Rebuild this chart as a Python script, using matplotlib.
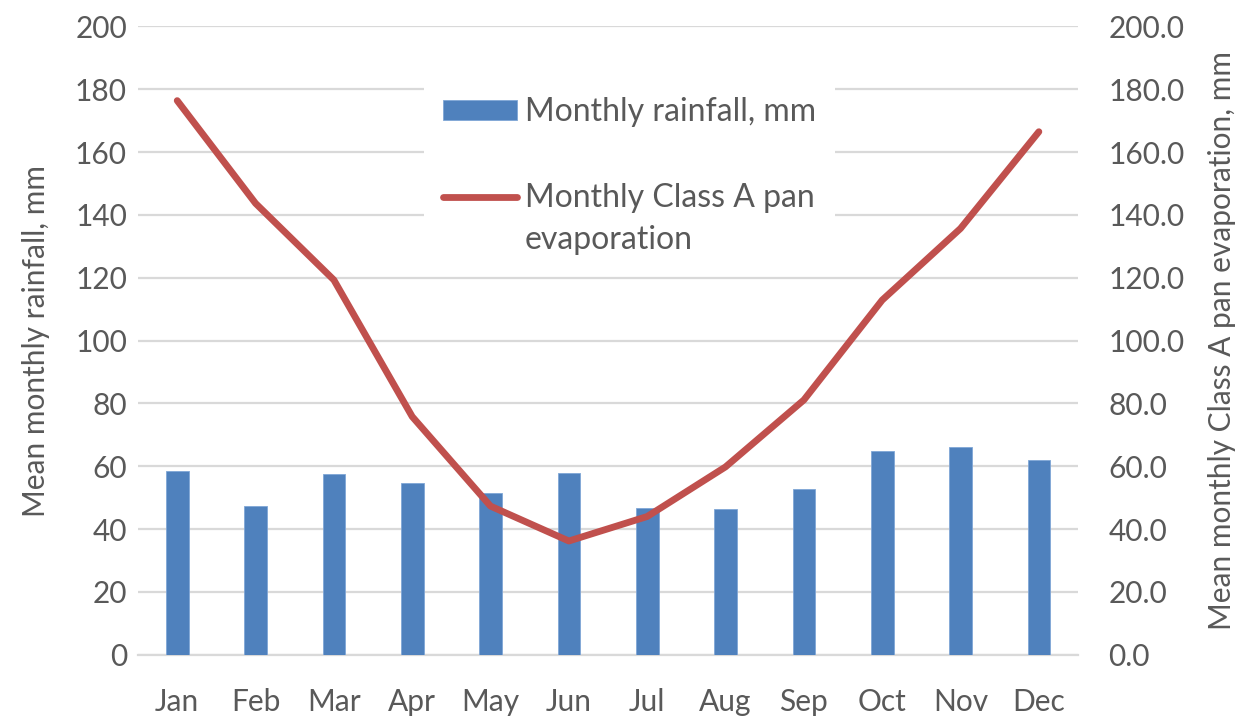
import matplotlib.pyplot as plt
import numpy as np

plt.rcParams['font.family'] = ['Lato', 'DejaVu Sans']

months = ['Jan', 'Feb', 'Mar', 'Apr', 'May', 'Jun',
          'Jul', 'Aug', 'Sep', 'Oct', 'Nov', 'Dec']
rainfall = [58.4, 47.4, 57.4, 54.6, 51.6, 57.8, 46.8, 46.3, 52.7, 64.8, 66.0, 61.9]
evaporation = [176.4, 143.7, 119.3, 75.8, 47.3, 36.2, 44.0, 59.8, 81.1, 112.9, 135.7, 166.5]
left_ticks = [0, 20, 40, 60, 80, 100, 120, 140, 160, 180, 200]

grey = '#595959'
grid_c = '#D9D9D9'
fs = 21.5
leg_fs = 23

fig = plt.figure(figsize=(12.47, 7.16), dpi=100)
ax = fig.add_axes([0.1107, 0.0856, 0.7538, 0.8774])
ax2 = ax.twinx()

x = np.arange(len(months))
ax.bar(x, rainfall, width=0.29, color='#4F81BD', edgecolor='#7FA6D6',
       linewidth=0.6, label='Monthly rainfall, mm', zorder=3)
ax2.plot(x, evaporation, color='#C0504D', lw=4.9, solid_capstyle='round',
         solid_joinstyle='round', label='Monthly Class A pan')

ax.set_xlim(-0.5, len(months) - 0.5)
ax.set_ylim(0, 200)
ax2.set_ylim(0, 200)
ax.set_yticks(left_ticks)
ax2.set_yticks(left_ticks)
ax2.set_yticklabels([f'{v:.1f}' for v in left_ticks])
ax.set_xticks(x)
ax.set_xticklabels(months)

ax.grid(axis='y', color=grid_c, lw=1.6, zorder=0)
ax.set_axisbelow(True)
for a in (ax, ax2):
    for sp in a.spines.values():
        sp.set_visible(False)
    a.tick_params(length=0, labelsize=fs, labelcolor=grey)
ax.spines['bottom'].set_visible(True)
ax.spines['bottom'].set_color(grid_c)
ax.spines['bottom'].set_linewidth(1.6)
ax.tick_params(axis='x', pad=24)
ax.tick_params(axis='y', pad=8)
ax2.tick_params(axis='y', pad=22)

ax.set_ylabel('Mean monthly rainfall, mm', fontsize=fs, color=grey, labelpad=18)
ax2.set_ylabel('Mean monthly Class A pan evaporation, mm', fontsize=fs,
               color=grey, labelpad=17)

h1, l1 = ax.get_legend_handles_labels()
h2, l2 = ax2.get_legend_handles_labels()
leg = ax2.legend(h1 + h2, l1 + l2, loc='upper left',
                 bbox_to_anchor=(424 / 1247, 1 - 78 / 716),
                 bbox_transform=fig.transFigure, frameon=True,
                 framealpha=1, edgecolor='none', fontsize=leg_fs,
                 handlelength=2.3, handleheight=0.56, handletextpad=0.25,
                 labelspacing=1.75, borderpad=0.6, borderaxespad=0)
leg.get_frame().set_boxstyle('square', pad=0)
for t in leg.get_texts():
    t.set_color(grey)

# second line of the evaporation entry, hung under the legend text
ax2.annotate('evaporation', xy=(0, 0), xycoords=leg.get_texts()[1],
             xytext=(0, -30), textcoords='offset points',
             va='bottom', ha='left', fontsize=leg_fs, color=grey, zorder=6)

fig.savefig('out.png', dpi=100)
